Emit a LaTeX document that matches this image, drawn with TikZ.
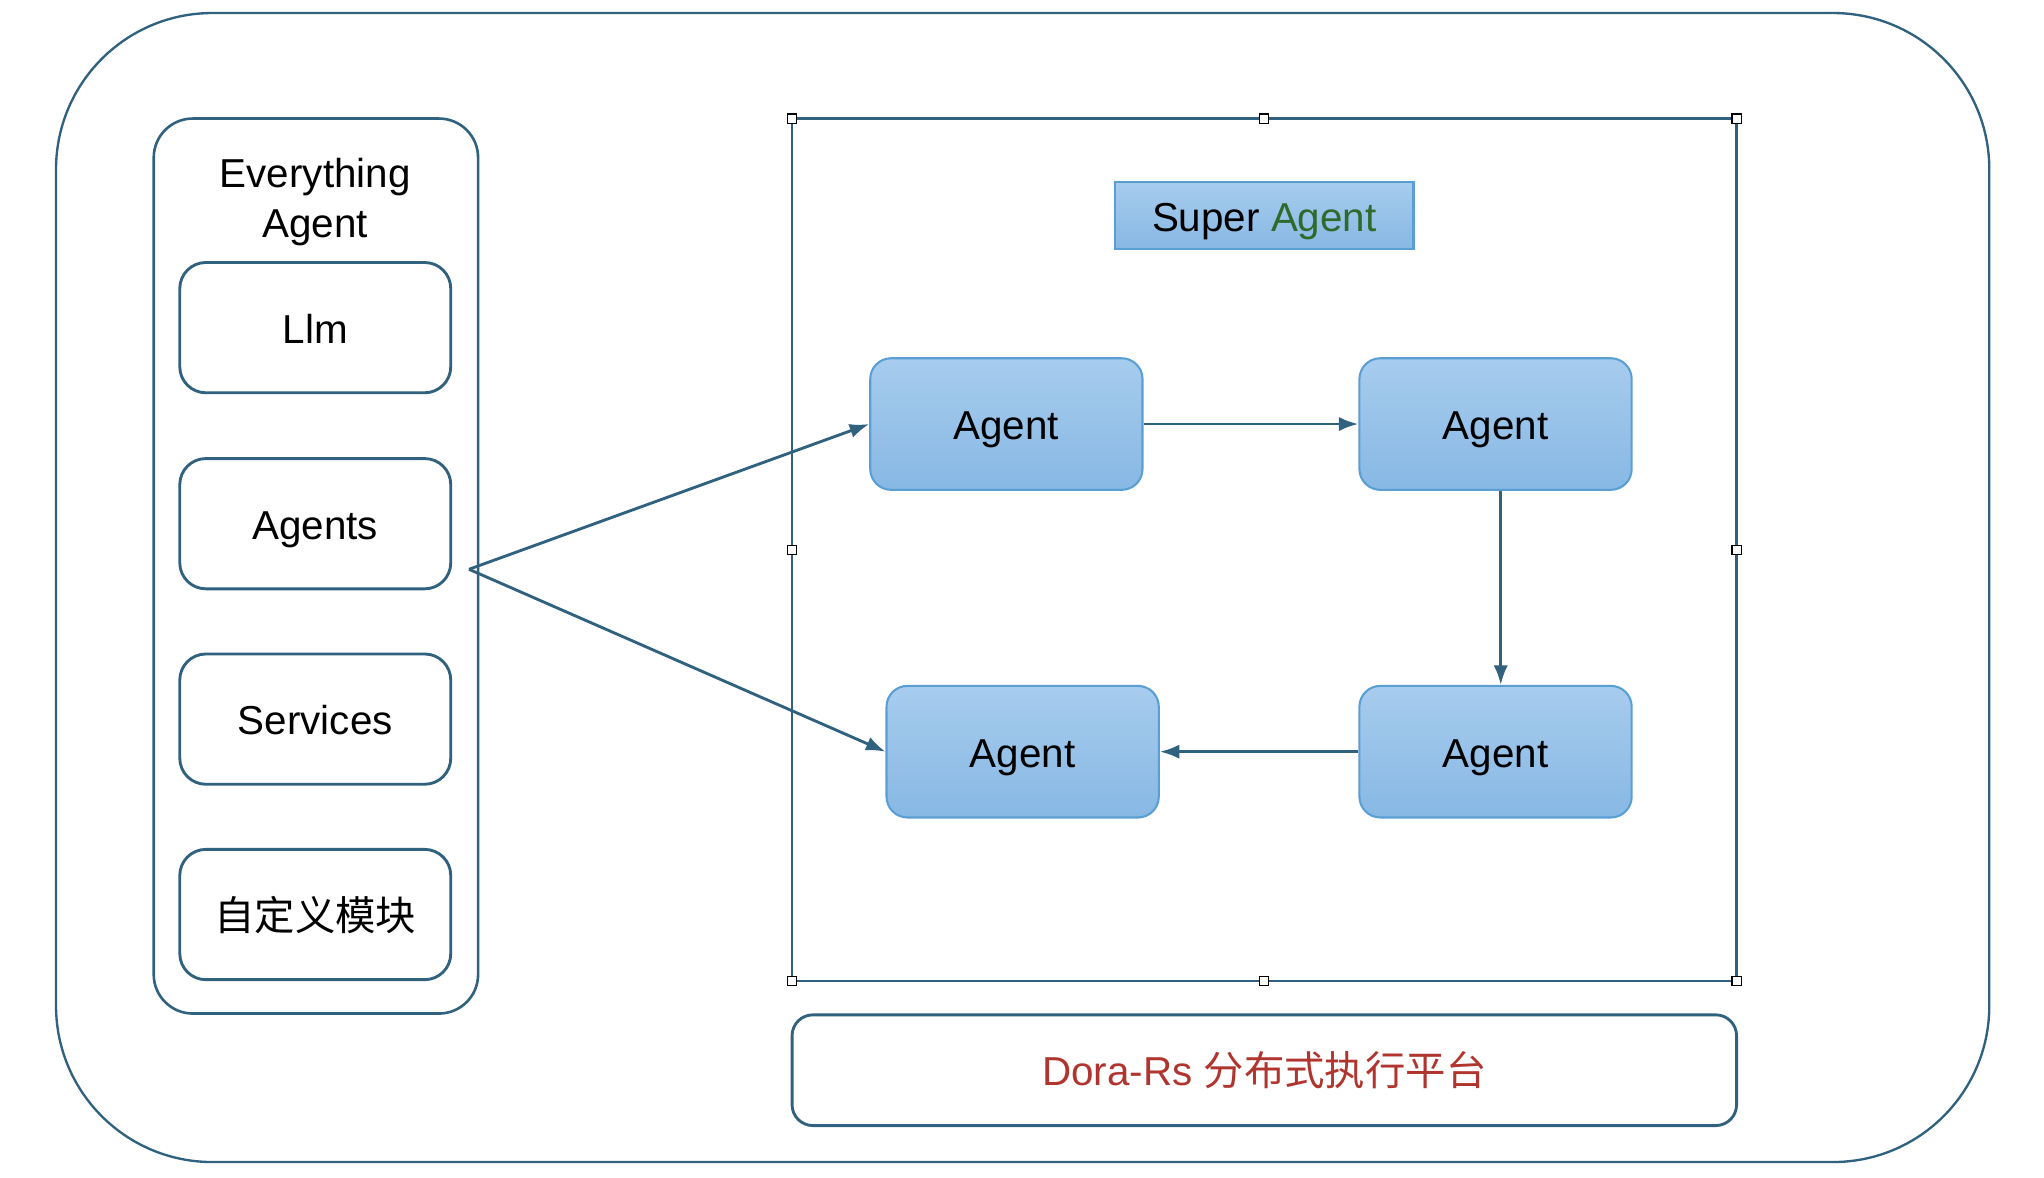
\documentclass[tikz,border=0pt]{standalone}
\usepackage{fontspec}
\setmainfont{Liberation Sans}
\newfontfamily\cjk{Noto Sans CJK SC}
\usepackage{tikz}
\usetikzlibrary{arrows.meta}
\definecolor{edgeblue}{HTML}{30617F}
\definecolor{agentedge}{HTML}{5A9FD4}
\definecolor{agenttop}{HTML}{A7CCEE}
\definecolor{agentbottom}{HTML}{87B8E4}
\definecolor{agentgreen}{HTML}{2E6B2A}
\definecolor{dorared}{HTML}{B0352F}

\begin{document}
\begin{tikzpicture}[x=0.5pt,y=-0.5pt,
        font=\fontsize{15.5}{19}\selectfont,
        frame/.style={draw=edgeblue, line width=0.9pt},
        module/.style={draw=edgeblue, line width=1.1pt, rounded corners=10pt,
          minimum width=104pt, minimum height=50pt, text height=12pt, text depth=0pt},
        agent/.style={draw=agentedge, line width=0.8pt, rounded corners=8pt,
          top color=agenttop, bottom color=agentbottom,
          minimum width=104.5pt, minimum height=50.5pt, text height=12pt, text depth=0pt},
        handle/.style={draw=black, fill=white, line width=0.4pt,
          minimum size=3.5pt, inner sep=0pt},
        link/.style={draw=edgeblue, line width=1.1pt, -{Latex[length=7.5pt,width=5.5pt]}}
      ]
      \useasboundingbox (0,0) rectangle (1569,904);
      \node [frame, rounded corners=60pt, minimum width=742pt, minimum height=441pt] (outer) at (785,451) {};
      % left column
      \node [frame, line width=1pt, rounded corners=15pt, minimum width=124.5pt, minimum height=343.5pt] (everything) at (242.5,434.5) {};
      \node [align=center] (title) at (242,155) {Everything\\Agent};
      \node [module] (llm) at (242,251.5) {Llm};
      \node [module] (agents) at (242,402) {Agents};
      \node [module] (services) at (242,552) {Services};
      \node [module] (custom) at (242,702) {\cjk 自定义模块};
      % super agent frame
      \draw [frame] (608,91) rectangle (1333,753);
      \foreach \hx/\hy [count=\i] in {608/91,970.5/91,1333/91,608/422,1333/422,608/753,970.5/753,1333/753}
        \node [handle] (h\i) at (\hx,\hy) {};
      \node [draw=agentedge, line width=0.8pt, top color=agenttop, bottom color=agentbottom,
        minimum width=114.5pt, minimum height=25.5pt, text height=12pt, text depth=0pt] (super) at (970.5,165.5) {Super \textcolor{agentgreen}{Agent}};
      \node [agent] (a1) at (772.5,325.5) {Agent};
      \node [agent] (a2) at (1148,325.5) {Agent};
      \node [agent] (a3) at (785,577) {Agent};
      \node [agent] (a4) at (1148,577) {Agent};
      \node [frame, line width=1.1pt, rounded corners=8pt, minimum width=362.5pt, minimum height=42.5pt,
        text height=12pt, text depth=0pt, text=dorared] (dora) at (970.5,821.5) {Dora-Rs {\cjk 分布式执行平台}};
      % links
      \coordinate (src) at (360,437);
      \draw [link] (src) -- (a1.west);
      \draw [link] (src) -- (a3.west);
      \draw [link] (a1.east) -- (a2.west);
      \draw [link] ([xshift=2pt]a2.south) -- ([xshift=2pt]a4.north);
      \draw [link] (a4.west) -- (a3.east);
    \end{tikzpicture}
\end{document}
